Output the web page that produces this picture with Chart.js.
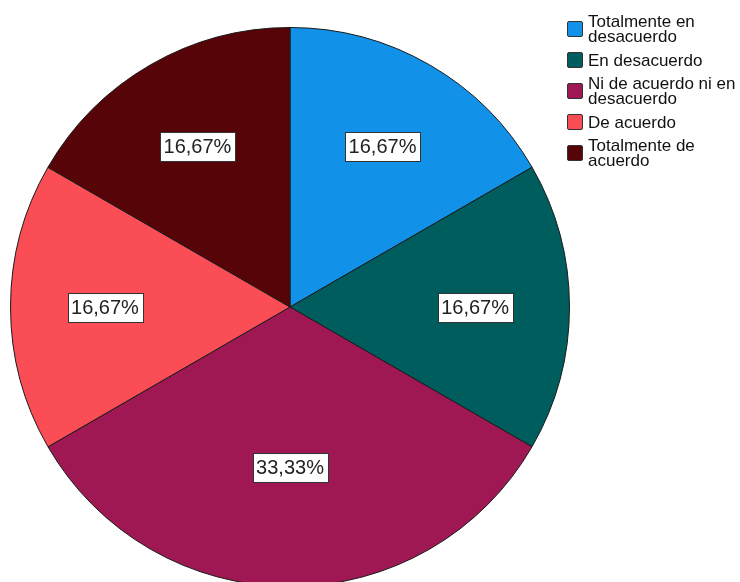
<!DOCTYPE html>
<html>
<head>
<meta charset="utf-8">
<script src="https://cdn.jsdelivr.net/npm/chart.js@4"></script>
<style>
html, body { margin:0; padding:0; background:#fff; width:740px; height:582px; overflow:hidden; }
#wrap { position:absolute; left:0; top:0; width:580px; height:614px; }
#legend { position:absolute; left:567px; top:14px; font-family:"Liberation Sans", Arial, sans-serif; font-size:17px; line-height:15px; color:#111; }
.item { display:flex; align-items:center; margin-bottom:8px; }
.box { width:14px; height:14px; border:1px solid #333; border-radius:2px; margin-right:5px; flex:none; }
</style>
</head>
<body>
<div id="wrap"><canvas id="pie" width="580" height="614"></canvas></div>
<div id="legend"></div>
<script>
const categories = [
  ["Totalmente en", "desacuerdo"],
  ["En desacuerdo"],
  ["Ni de acuerdo ni en", "desacuerdo"],
  ["De acuerdo"],
  ["Totalmente de", "acuerdo"]
];
const percents = [16.67, 16.67, 33.33, 16.67, 16.67];
const colors = ["#1192e8", "#005d5d", "#9f1853", "#fa4d56", "#570408"];

// legend on the right
const legend = document.getElementById("legend");
categories.forEach((lines, i) => {
  const row = document.createElement("div");
  row.className = "item";
  const box = document.createElement("div");
  box.className = "box";
  box.style.background = colors[i];
  const txt = document.createElement("div");
  txt.innerHTML = lines.join("<br>");
  row.appendChild(box);
  row.appendChild(txt);
  legend.appendChild(row);
});

// percentage boxes inside each slice
const pctLabels = {
  id: "pctLabels",
  afterDatasetsDraw(chart) {
    const ctx = chart.ctx;
    const meta = chart.getDatasetMeta(0);
    ctx.save();
    ctx.font = "20px 'Liberation Sans', Arial, sans-serif";
    ctx.textAlign = "center";
    ctx.textBaseline = "middle";
    meta.data.forEach((arc, i) => {
      const p = arc.getProps(["x", "y", "startAngle", "endAngle", "outerRadius"], true);
      const half = (p.endAngle - p.startAngle) / 2;
      const mid = p.startAngle + half;
      const d = 1.04 * 2 * p.outerRadius * Math.sin(half) / (3 * half);
      const cx = p.x + Math.cos(mid) * d;
      const cy = p.y + Math.sin(mid) * d;
      const text = percents[i].toFixed(2).replace(".", ",") + "%";
      const w = ctx.measureText(text).width + 7;
      const h = 29;
      ctx.fillStyle = "#fff";
      ctx.fillRect(Math.round(cx - w / 2) + 0.5, Math.round(cy - h / 2) + 0.5, Math.round(w), h);
      ctx.strokeStyle = "#333";
      ctx.lineWidth = 1;
      ctx.strokeRect(Math.round(cx - w / 2) + 0.5, Math.round(cy - h / 2) + 0.5, Math.round(w), h);
      ctx.fillStyle = "#222";
      ctx.fillText(text, cx, cy + 1);
    });
    ctx.restore();
  }
};

new Chart(document.getElementById("pie"), {
  type: "pie",
  data: {
    labels: categories.map(l => l.join(" ")),
    datasets: [{
      data: percents,
      backgroundColor: colors,
      borderColor: "#1a1a1a",
      borderWidth: 1
    }]
  },
  options: {
    responsive: false,
    animation: false,
    layout: { padding: 10 },
    plugins: {
      legend: { display: false },
      tooltip: { enabled: false }
    }
  },
  plugins: [pctLabels]
});
</script>
</body>
</html>
